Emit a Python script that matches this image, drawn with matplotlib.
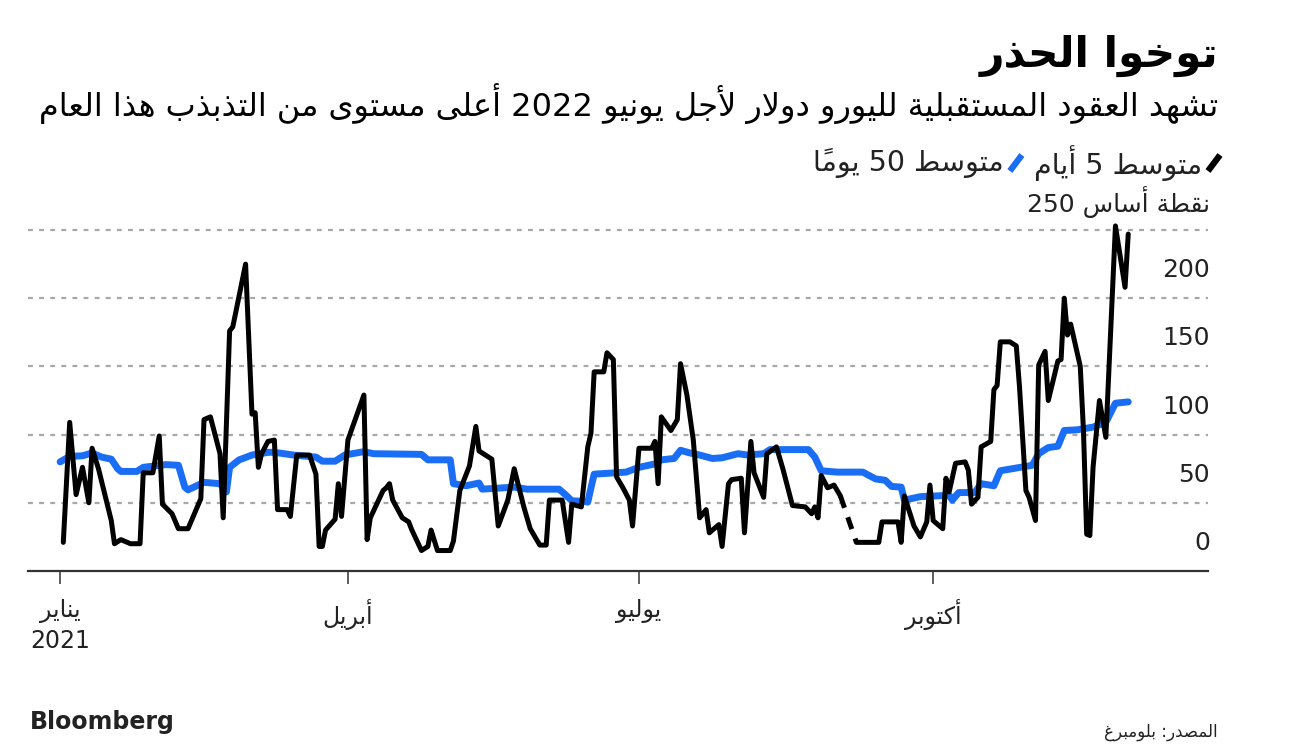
import re
import numpy as np
import pandas as pd
import matplotlib
matplotlib.use('Agg')
import matplotlib.pyplot as plt
from matplotlib.lines import Line2D

# ---- data ----
start = pd.Timestamp('2021-01-01')

# 5-day average, solid part before the gap
days_5a = [1, 3, 5, 7, 9, 10, 12, 16, 17, 19, 22, 25, 26, 29, 31, 32, 35, 37, 40, 44,
           45, 47, 50, 51, 53, 54, 58, 60, 61, 62, 63, 65, 67, 68, 71, 72, 74, 78, 80, 81,
           82, 83, 86, 87, 88, 90, 95, 96, 97, 101, 102, 103, 104, 107, 109, 110, 113, 115, 116, 118,
           122, 123, 125, 128, 130, 131, 135, 137, 140, 142, 145, 147, 150, 152, 153, 157, 159, 160, 163, 165,
           166, 167, 170, 171, 173, 174, 176, 178, 179, 181, 185, 186, 187, 188, 191, 193, 194, 196, 198, 200,
           202, 203, 206, 207, 209, 210, 213, 214, 216, 217, 220, 221, 224, 226, 229, 233, 235, 236, 237, 238,
           240, 242, 244]
vals_5a = [21, 109, 56, 76, 50, 90, 75, 37, 20, 23, 20, 20, 72, 72, 99, 49, 42, 31, 31, 53,
           111, 113, 86, 39, 176, 179, 225, 115, 116, 76, 86, 95, 96, 45, 45, 40, 85, 85, 71, 18,
           18, 30, 38, 64, 40, 96, 129, 23, 39, 59, 61, 64, 52, 39, 36, 30, 15, 18, 30, 15,
           15, 22, 59, 77, 106, 88, 82, 33, 52, 75, 47, 31, 19, 19, 52, 52, 21, 49, 47, 91,
           101, 146, 146, 160, 155, 69, 61, 52, 33, 90, 90, 95, 64, 113, 103, 111, 152, 129, 96, 39,
           45, 28, 34, 18, 64, 67, 68, 28, 95, 72, 54, 86, 91, 75, 48, 47, 42, 47, 39, 70,
           61, 63, 55]
# 5-day average after the gap
days_5b = [249, 256, 257, 262, 263, 264, 267, 269, 271, 272, 273, 276, 277, 278, 280, 283, 284, 285, 287, 288,
           291, 292, 293, 294, 297, 299, 300, 302, 303, 305, 306, 308, 309, 312, 313, 314, 315, 316, 319, 320,
           321, 322, 323, 325, 327, 330, 333, 334]
vals_5b = [21, 21, 36, 36, 21, 55, 33, 25, 36, 63, 37, 31, 68, 58, 79, 80, 74, 49, 54, 91,
           95, 133, 136, 168, 168, 165, 135, 59, 54, 37, 151, 161, 125, 154, 155, 200, 173, 181, 150, 103,
           27, 26, 76, 125, 98, 253, 208, 247]

# 50-day average
days_50 = [0, 3, 7, 10, 13, 16, 18, 19, 24, 26, 33, 37, 39, 40, 45, 50, 52, 53, 56, 60,
           65, 67, 73, 80, 82, 86, 89, 95, 98, 113, 115, 122, 123, 127, 131, 132, 142, 146, 156, 158,
           160, 164, 165, 166, 167, 177, 181, 186, 188, 192, 194, 197, 200, 204, 207, 212, 215, 220, 222, 234,
           236, 238, 243, 251, 255, 258, 260, 263, 264, 269, 278, 279, 281, 286, 288, 292, 294, 304, 306, 309,
           312, 314, 318, 323, 327, 330, 334]
vals_50 = [80, 84, 84.5, 86.5, 83.5, 82, 75, 73, 73, 76, 78, 77.5, 61.5, 59.5, 65, 64, 58, 76, 81.5, 85,
           87, 87, 85, 83.5, 80.5, 80.5, 85, 87.5, 86, 85.5, 81.5, 81.5, 64, 62.5, 64.5, 60, 61.5, 60, 60, 56,
           51.5, 51, 50.5, 61, 71, 72.5, 76, 78.5, 81.5, 82.5, 88.5, 86.5, 85, 82.5, 83, 86, 85, 86, 89, 89,
           83.5, 73.5, 72.5, 72.5, 67.5, 66.5, 62, 61.5, 52, 54.5, 55.5, 52, 57.5, 57.5, 64, 62.5, 73.5, 77.5, 86, 90.5,
           91.5, 103, 103.5, 105.5, 109, 123, 124]

y_ticks = [0, 50, 100, 150, 200, 250]
x_ticks = ['2021-01-01', '2021-04-01', '2021-07-01', '2021-10-01']
x_tick_labels = ['يناير\n2021', 'أبريل', 'يوليو', 'أكتوبر']

title = 'توخوا الحذر'
subtitle = 'تشهد العقود المستقبلية لليورو دولار لأجل يونيو 2022 أعلى مستوى من التذبذب هذا العام'
legend_5 = 'متوسط 5 أيام'
legend_50 = 'متوسط 50 يوماً'
unit = 'نقطة أساس'
source = 'المصدر: بلومبرغ'

BLACK = '#000000'
BLUE = '#1a6ef5'

# ---- tiny arabic shaper (matplotlib has no text shaping) ----
_forms = {}
for ch, cp, n in [('ء', 0xFE80, 1), ('آ', 0xFE81, 2), ('أ', 0xFE83, 2), ('ؤ', 0xFE85, 2), ('إ', 0xFE87, 2),
                  ('ئ', 0xFE89, 4), ('ا', 0xFE8D, 2), ('ب', 0xFE8F, 4), ('ة', 0xFE93, 2), ('ت', 0xFE95, 4),
                  ('ث', 0xFE99, 4), ('ج', 0xFE9D, 4), ('ح', 0xFEA1, 4), ('خ', 0xFEA5, 4), ('د', 0xFEA9, 2),
                  ('ذ', 0xFEAB, 2), ('ر', 0xFEAD, 2), ('ز', 0xFEAF, 2), ('س', 0xFEB1, 4), ('ش', 0xFEB5, 4),
                  ('ص', 0xFEB9, 4), ('ض', 0xFEBD, 4), ('ط', 0xFEC1, 4), ('ظ', 0xFEC5, 4), ('ع', 0xFEC9, 4),
                  ('غ', 0xFECD, 4), ('ف', 0xFED1, 4), ('ق', 0xFED5, 4), ('ك', 0xFED9, 4), ('ل', 0xFEDD, 4),
                  ('م', 0xFEE1, 4), ('ن', 0xFEE5, 4), ('ه', 0xFEE9, 4), ('و', 0xFEED, 2), ('ى', 0xFEEF, 2),
                  ('ي', 0xFEF1, 4)]:
    _forms[ch] = (cp, n)
_lamalef = {'آ': 0xFEF5, 'أ': 0xFEF7, 'إ': 0xFEF9, 'ا': 0xFEFB}
_marks = set(chr(c) for c in range(0x064B, 0x0653))


def shape(s):
    out = []
    i = 0
    while i < len(s):
        c = s[i]
        if c not in _forms:
            out.append(c)
            i += 1
            continue
        j = i - 1
        while j >= 0 and s[j] in _marks:
            j -= 1
        prev_join = j >= 0 and s[j] in _forms and _forms[s[j]][1] == 4
        if c == 'ل' and i + 1 < len(s) and s[i + 1] in _lamalef:
            out.append(chr(_lamalef[s[i + 1]] + (1 if prev_join else 0)))
            i += 2
            continue
        k = i + 1
        while k < len(s) and s[k] in _marks:
            k += 1
        cp, n = _forms[c]
        next_join = n == 4 and k < len(s) and s[k] in _forms
        if n == 1:
            f = 0
        elif prev_join and next_join:
            f = 3
        elif prev_join:
            f = 1
        elif next_join:
            f = 2
        else:
            f = 0
        out.append(chr(cp + f))
        i += 1
    return ''.join(out)


def ar(s):
    lines = []
    for line in s.split('\n'):
        t = shape(line)
        runs = re.findall(r'[0-9]+|[^0-9]+', t)
        vis = []
        for r in reversed(runs):
            if r[0].isdigit():
                vis.append(r)
            else:
                clusters = re.findall('.[\u064B-\u0652]*', r)
                vis.append(''.join(reversed(clusters)))
        lines.append(''.join(vis))
    return '\n'.join(lines)


plt.rcParams['font.family'] = ['DejaVu Sans']

W, H = 1297, 748
fig = plt.figure(figsize=(W / 100, H / 100), dpi=100)
fig.patch.set_facecolor('white')

# axes placed in pixels
left, right, bottom, top = 28, 1208, 571, 223
ax = fig.add_axes([left / W, 1 - bottom / H, (right - left) / W, (bottom - top) / H])
ax.set_facecolor('white')

px_per_day = 3.198
x0 = start + pd.Timedelta(days=(left - 60.1) / px_per_day)
x1 = start + pd.Timedelta(days=(right - 60.1) / px_per_day)
ax.set_xlim(x0, x1)
ax.set_ylim(0, (bottom - top) / 1.364)

for v in y_ticks[1:]:
    ax.axhline(v, color='#a8a8a8', lw=1.6, ls=(0, (2.2, 2.8)), zorder=1)
for v in y_ticks:
    lab = ar(unit + ' ' + str(v)) if v == y_ticks[-1] else str(v)
    ax.annotate(lab, xy=(1.0, v), xycoords=ax.get_yaxis_transform(), xytext=(2, 28),
                textcoords='offset pixels', ha='right', va='center', fontsize=18, color='#222222')

d5a = start + pd.to_timedelta(days_5a, unit='D')
d5b = start + pd.to_timedelta(days_5b, unit='D')
d50 = start + pd.to_timedelta(days_50, unit='D')

ax.plot(d50, vals_50, color=BLUE, lw=5.0, solid_joinstyle='round', solid_capstyle='round', zorder=3)
ax.plot(d5a, vals_5a, color=BLACK, lw=3.6, solid_joinstyle='round', solid_capstyle='round', zorder=4, clip_on=False)
ax.plot(d5b, vals_5b, color=BLACK, lw=3.6, solid_joinstyle='round', solid_capstyle='round', zorder=4, clip_on=False)
ax.plot([d5a[-1], d5b[0]], [vals_5a[-1], vals_5b[0]], color=BLACK, lw=3.6, ls=(0, (2.5, 2.0)), zorder=4)

for s in ['top', 'right', 'left']:
    ax.spines[s].set_visible(False)
ax.spines['bottom'].set_color('#333333')
ax.spines['bottom'].set_linewidth(1.6)
ax.set_yticks([])
ax.set_xticks(pd.to_datetime(x_ticks))
ax.set_xticklabels([ar(t) for t in x_tick_labels], fontsize=17, color='#222222', linespacing=1.35)
ax.tick_params(axis='x', length=9, width=1.1, color='#333333', pad=11)

# ---- text ----
fig.text(1218 / W, 1 - 56 / H, ar(title), ha='right', va='center', fontsize=30.5, fontweight='bold', color='black')
fig.text(1218 / W, 1 - 104 / H, ar(subtitle), ha='right', va='center', fontsize=23, color='black')

fig.canvas.draw()
r = fig.canvas.get_renderer()
ly = 1 - 163 / H
fig.add_artist(Line2D([1208 / W, 1220 / W], [1 - 171 / H, 1 - 155 / H], color=BLACK, lw=4.5, solid_capstyle='butt'))
t1 = fig.text(1202 / W, ly, ar(legend_5), ha='right', va='center', fontsize=20.5, color='#222222')
bb = t1.get_window_extent(r)
xb = bb.x0 - 12
fig.add_artist(Line2D([(xb - 12) / W, xb / W], [1 - 171 / H, 1 - 155 / H], color=BLUE, lw=4.5, solid_capstyle='butt'))
fig.text((xb - 18) / W, ly, ar(legend_50), ha='right', va='center', fontsize=20.5, color='#222222')

fig.text(30 / W, 1 - 722 / H, 'Bloomberg', ha='left', va='center', fontsize=17, fontweight='bold', color='#222222')
fig.text(1218 / W, 1 - 732 / H, ar(source), ha='right', va='center', fontsize=12, color='#222222')

fig.savefig('out.png', dpi=100, facecolor='white')
